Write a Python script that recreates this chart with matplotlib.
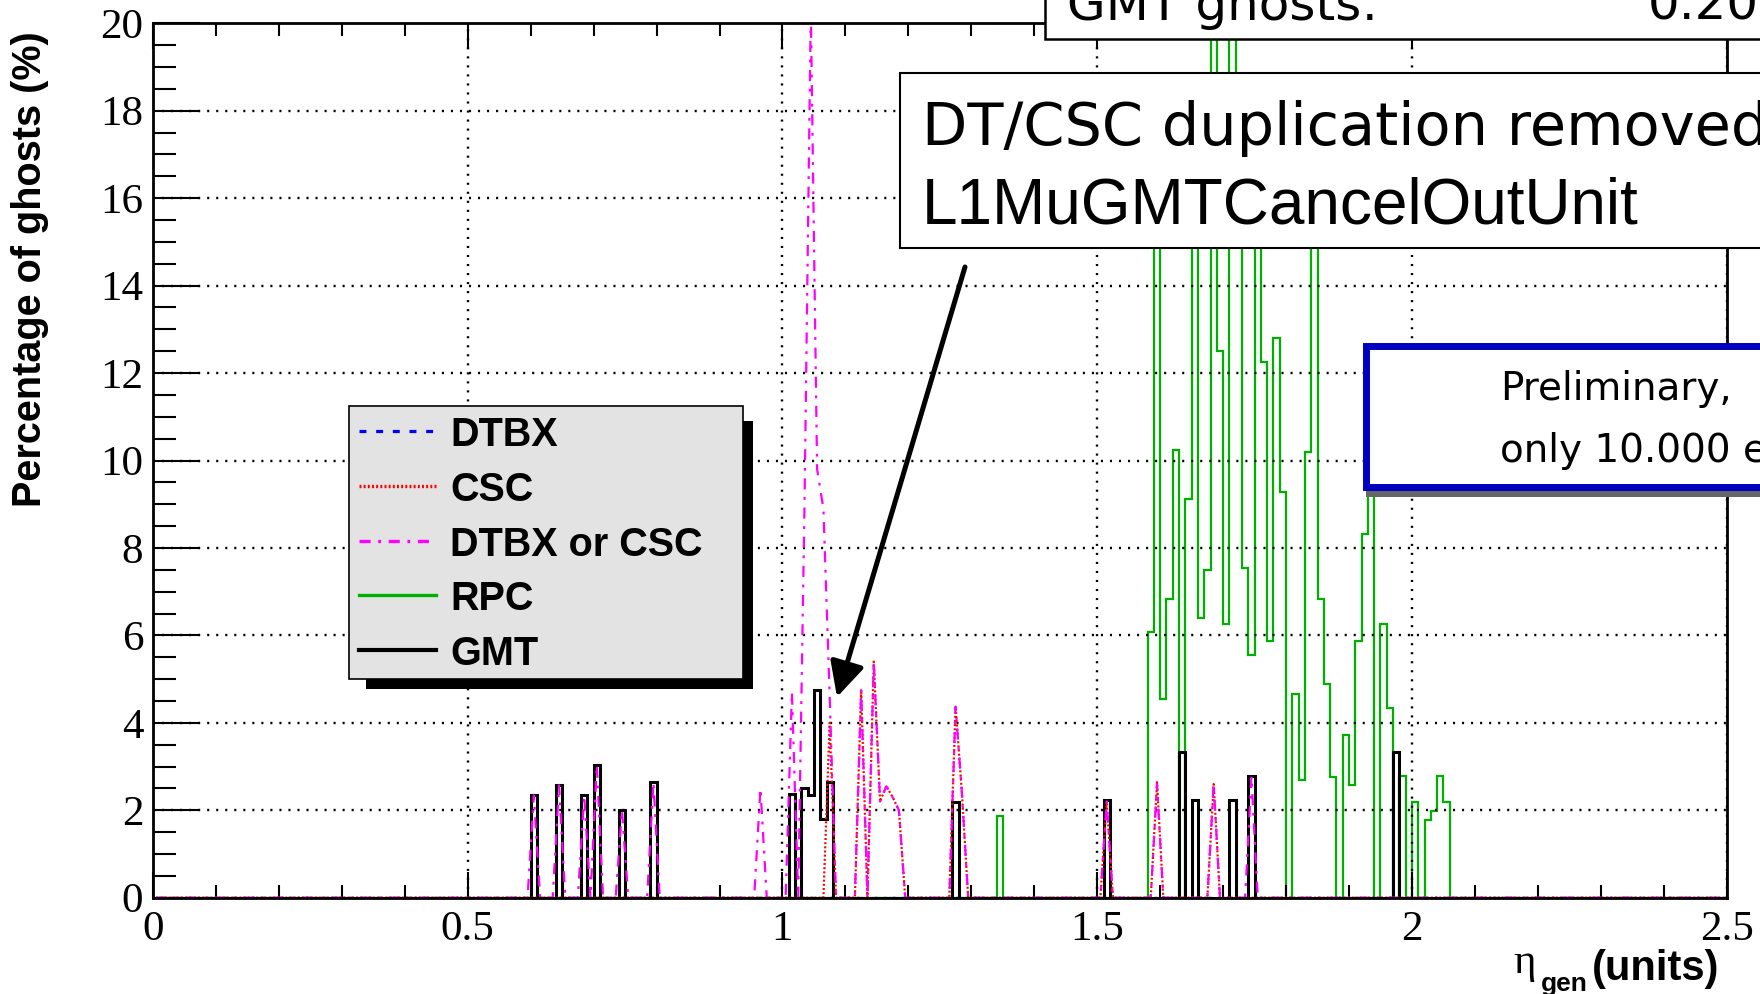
import numpy as np
import matplotlib
matplotlib.use("Agg")
import matplotlib.pyplot as plt
from matplotlib.patches import Rectangle, FancyArrowPatch, ArrowStyle
from matplotlib.lines import Line2D
from matplotlib.ticker import MultipleLocator, FuncFormatter

plt.rcParams['lines.scale_dashes'] = False
plt.rcParams['font.family'] = 'Liberation Serif'

# eta histograms: 250 bins of 0.01 from 0 to 2.5
n_bins = 250
eta_lo, eta_hi = 0.0, 2.5

# filled bins (index of the 0.01 bin) and percentage of ghosts
dtbx_bins = []
dtbx_vals = []

csc_bins = [107, 112, 114, 115, 116, 117, 118, 127, 128, 151, 159, 168]
csc_vals = [4.0, 4.75, 5.4, 2.2, 2.55, 2.3, 2.0, 4.37, 2.4, 2.2, 2.64, 2.6]

dtorcsc_bins = [60, 64, 68, 70, 74, 79, 96, 101, 103, 104, 105, 106, 107,
                112, 114, 115, 116, 117, 118, 127, 128, 151, 159, 168, 174]
dtorcsc_vals = [2.34, 2.57, 2.34, 3.04, 2.0, 2.64, 2.5, 4.7, 9.0, 20.3, 9.8, 8.9, 4.6,
                4.75, 5.4, 2.2, 2.55, 2.3, 2.0, 4.37, 2.4, 2.2, 2.6, 2.6, 2.77]

rpc_bins = [134, 158, 159, 160, 161, 162, 164, 165, 166, 167,
            168, 169, 170, 171, 172, 173, 174, 175, 176, 177,
            178, 179, 181, 182, 183, 184, 185, 186, 187, 189,
            190, 191, 192, 193, 195, 196, 198, 200, 202, 203,
            204, 205]
rpc_vals = [1.87, 6.07, 16.0, 4.54, 6.83, 10.25, 9.12, 17.5, 6.39, 7.5,
            22.0, 12.5, 6.26, 22.0, 16.5, 7.55, 5.55, 15.5, 12.25, 5.88,
            12.8, 9.29, 4.65, 2.7, 10.2, 15.0, 6.83, 4.89, 2.75, 3.71,
            2.57, 5.88, 8.33, 11.0, 6.26, 4.35, 2.79, 2.19, 1.78, 1.99,
            2.79, 2.19]

gmt_bins = [60, 64, 68, 70, 74, 79, 101, 103, 104, 105, 106, 107,
            127, 151, 163, 165, 171, 174, 197]
gmt_vals = [2.34, 2.57, 2.34, 3.04, 2.0, 2.64, 2.38, 2.51, 2.34, 4.75, 1.8, 2.64,
            2.19, 2.23, 3.34, 2.23, 2.23, 2.79, 3.34]

legend_labels = ['DTBX', 'CSC', 'DTBX or CSC', 'RPC', 'GMT']


def fill(bins, vals):
    h = np.zeros(n_bins)
    h[np.asarray(bins, dtype=int)] = vals
    return h


dtbx = fill(dtbx_bins, dtbx_vals)
csc = fill(csc_bins, csc_vals)
dtorcsc = fill(dtorcsc_bins, dtorcsc_vals)
rpc = fill(rpc_bins, rpc_vals)
gmt = fill(gmt_bins, gmt_vals)

edges = np.linspace(eta_lo, eta_hi, n_bins + 1)
centers = 0.5 * (edges[:-1] + edges[1:])

W, H = 1760, 994
fig = plt.figure(figsize=(W / 100, H / 100), dpi=100)
fig.patch.set_facecolor('white')


# pixel -> figure fraction
def fx(px):
    return px / W


def fy(py):
    return 1 - py / H


def px_rect(x0, y0, x1, y1, **kw):
    return Rectangle((fx(x0), fy(y1)), fx(x1) - fx(x0), fy(y0) - fy(y1),
                     transform=fig.transFigure, clip_on=False, **kw)


ax = fig.add_axes([fx(153), fy(897.7), fx(1726.7) - fx(153), fy(23.3) - fy(897.7)])

styles = {
    'DTBX': dict(color='blue', lw=1.5, ls=(0, (5, 7))),
    'CSC': dict(color='red', lw=1.6, ls=(0, (1.4, 1.6))),
    'DTBX or CSC': dict(color='magenta', lw=1.6, ls=(0, (8, 5.5, 2, 5.5))),
    'RPC': dict(color='#00b000', lw=1.6, ls='-'),
    'GMT': dict(color='black', lw=2.2, ls='-'),
}

ax.plot(centers, dtbx, **styles['DTBX'])
ax.plot(centers, csc, **styles['CSC'])
ax.plot(centers, dtorcsc, **styles['DTBX or CSC'])
ax.stairs(rpc, edges, color=styles['RPC']['color'], lw=styles['RPC']['lw'])
ax.stairs(gmt, edges, color=styles['GMT']['color'], lw=styles['GMT']['lw'])

ax.set_xlim(eta_lo, eta_hi)
ax.set_ylim(0, 20)

ax.xaxis.set_major_locator(MultipleLocator(0.5))
ax.xaxis.set_minor_locator(MultipleLocator(0.1))
ax.yaxis.set_major_locator(MultipleLocator(2))
ax.yaxis.set_minor_locator(MultipleLocator(0.5))
ax.xaxis.set_major_formatter(FuncFormatter(lambda v, p: '%g' % v))

ax.tick_params(axis='x', which='major', direction='in', length=18.5, width=1.5,
               top=True, labelsize=31, pad=9)
ax.tick_params(axis='x', which='minor', direction='in', length=9.3, width=1.5, top=True)
ax.tick_params(axis='y', which='major', direction='in', length=34, width=1.5,
               labelsize=31, pad=7)
ax.tick_params(axis='y', which='minor', direction='in', length=16.5, width=1.5)

ax.grid(which='major', color='black', lw=1.7, ls=(0, (1.5, 5.0)))
for s in ax.spines.values():
    s.set_linewidth(2)

# axis titles
fig.text(fx(30), fy(269), 'Percentage of ghosts (%)', rotation=90, ha='center', va='center',
         family='Liberation Sans', fontweight='bold', fontsize=28.5)
fig.text(fx(1513), fy(973), '\u03b7', family='Liberation Serif', fontsize=31, va='baseline')
fig.text(fx(1541), fy(991), 'gen', family='Liberation Sans', fontweight='bold',
         fontsize=19, va='baseline')
fig.text(fx(1592), fy(980), '(units)', family='Liberation Sans', fontweight='bold',
         fontsize=30, va='baseline')

# legend box with shadow
fig.add_artist(px_rect(366, 421, 753, 689, fc='black', ec='none'))
fig.add_artist(px_rect(349, 406, 743, 679, fc='#e3e3e3', ec='black', lw=1.2))
for i, lab in enumerate(legend_labels):
    y = 431 + i * 54.8
    st = styles[lab]
    fig.add_artist(Line2D([fx(359), fx(436)], [fy(y), fy(y)], transform=fig.transFigure,
                          color=st['color'], lw=st['lw'] + 0.8, ls=st['ls']))
    fig.text(fx(450), fy(y), lab, family='Liberation Sans', fontweight='bold',
             fontsize=28.5, va='center_baseline')

# summary box at the top (cut by the canvas like in the original)
fig.add_artist(px_rect(1044.7, -100, 1900, 39, fc='white', ec='black', lw=1.8))
fig.text(fx(1067), fy(20), 'GMT ghosts:', family='DejaVu Sans', fontsize=36, va='baseline')
fig.text(fx(1648), fy(20), '0.20', family='DejaVu Sans', fontsize=36, va='baseline')

# annotation box
fig.add_artist(px_rect(900, 73, 1900, 248, fc='white', ec='black', lw=1.5))
fig.text(fx(922), fy(145), 'DT/CSC duplication removed', family='DejaVu Sans',
         fontsize=42.5, va='baseline')
fig.text(fx(922), fy(223), 'L1MuGMTCancelOutUnit', family='Liberation Sans',
         fontsize=46, va='baseline')

# preliminary box
fig.add_artist(px_rect(1366, 484, 1900, 497, fc='#666666', ec='none'))
fig.add_artist(px_rect(1365.5, 345.5, 1900, 487.5, fc='white', ec='#0000c0', lw=5))
fig.text(fx(1500), fy(400), 'Preliminary,', family='DejaVu Sans', fontsize=28, va='baseline')
fig.text(fx(1500), fy(462), 'only 10.000 events', family='DejaVu Sans', fontsize=28,
         va='baseline')

# arrow pointing to the cancelled bins
arr = FancyArrowPatch((fx(965), fy(267)), (fx(837), fy(697)), transform=fig.transFigure,
                      arrowstyle=ArrowStyle('-|>', head_length=21, head_width=10.5),
                      mutation_scale=1, lw=3.6, color='black', shrinkA=0, shrinkB=0)
fig.add_artist(arr)

fig.savefig('out.png', dpi=100)
